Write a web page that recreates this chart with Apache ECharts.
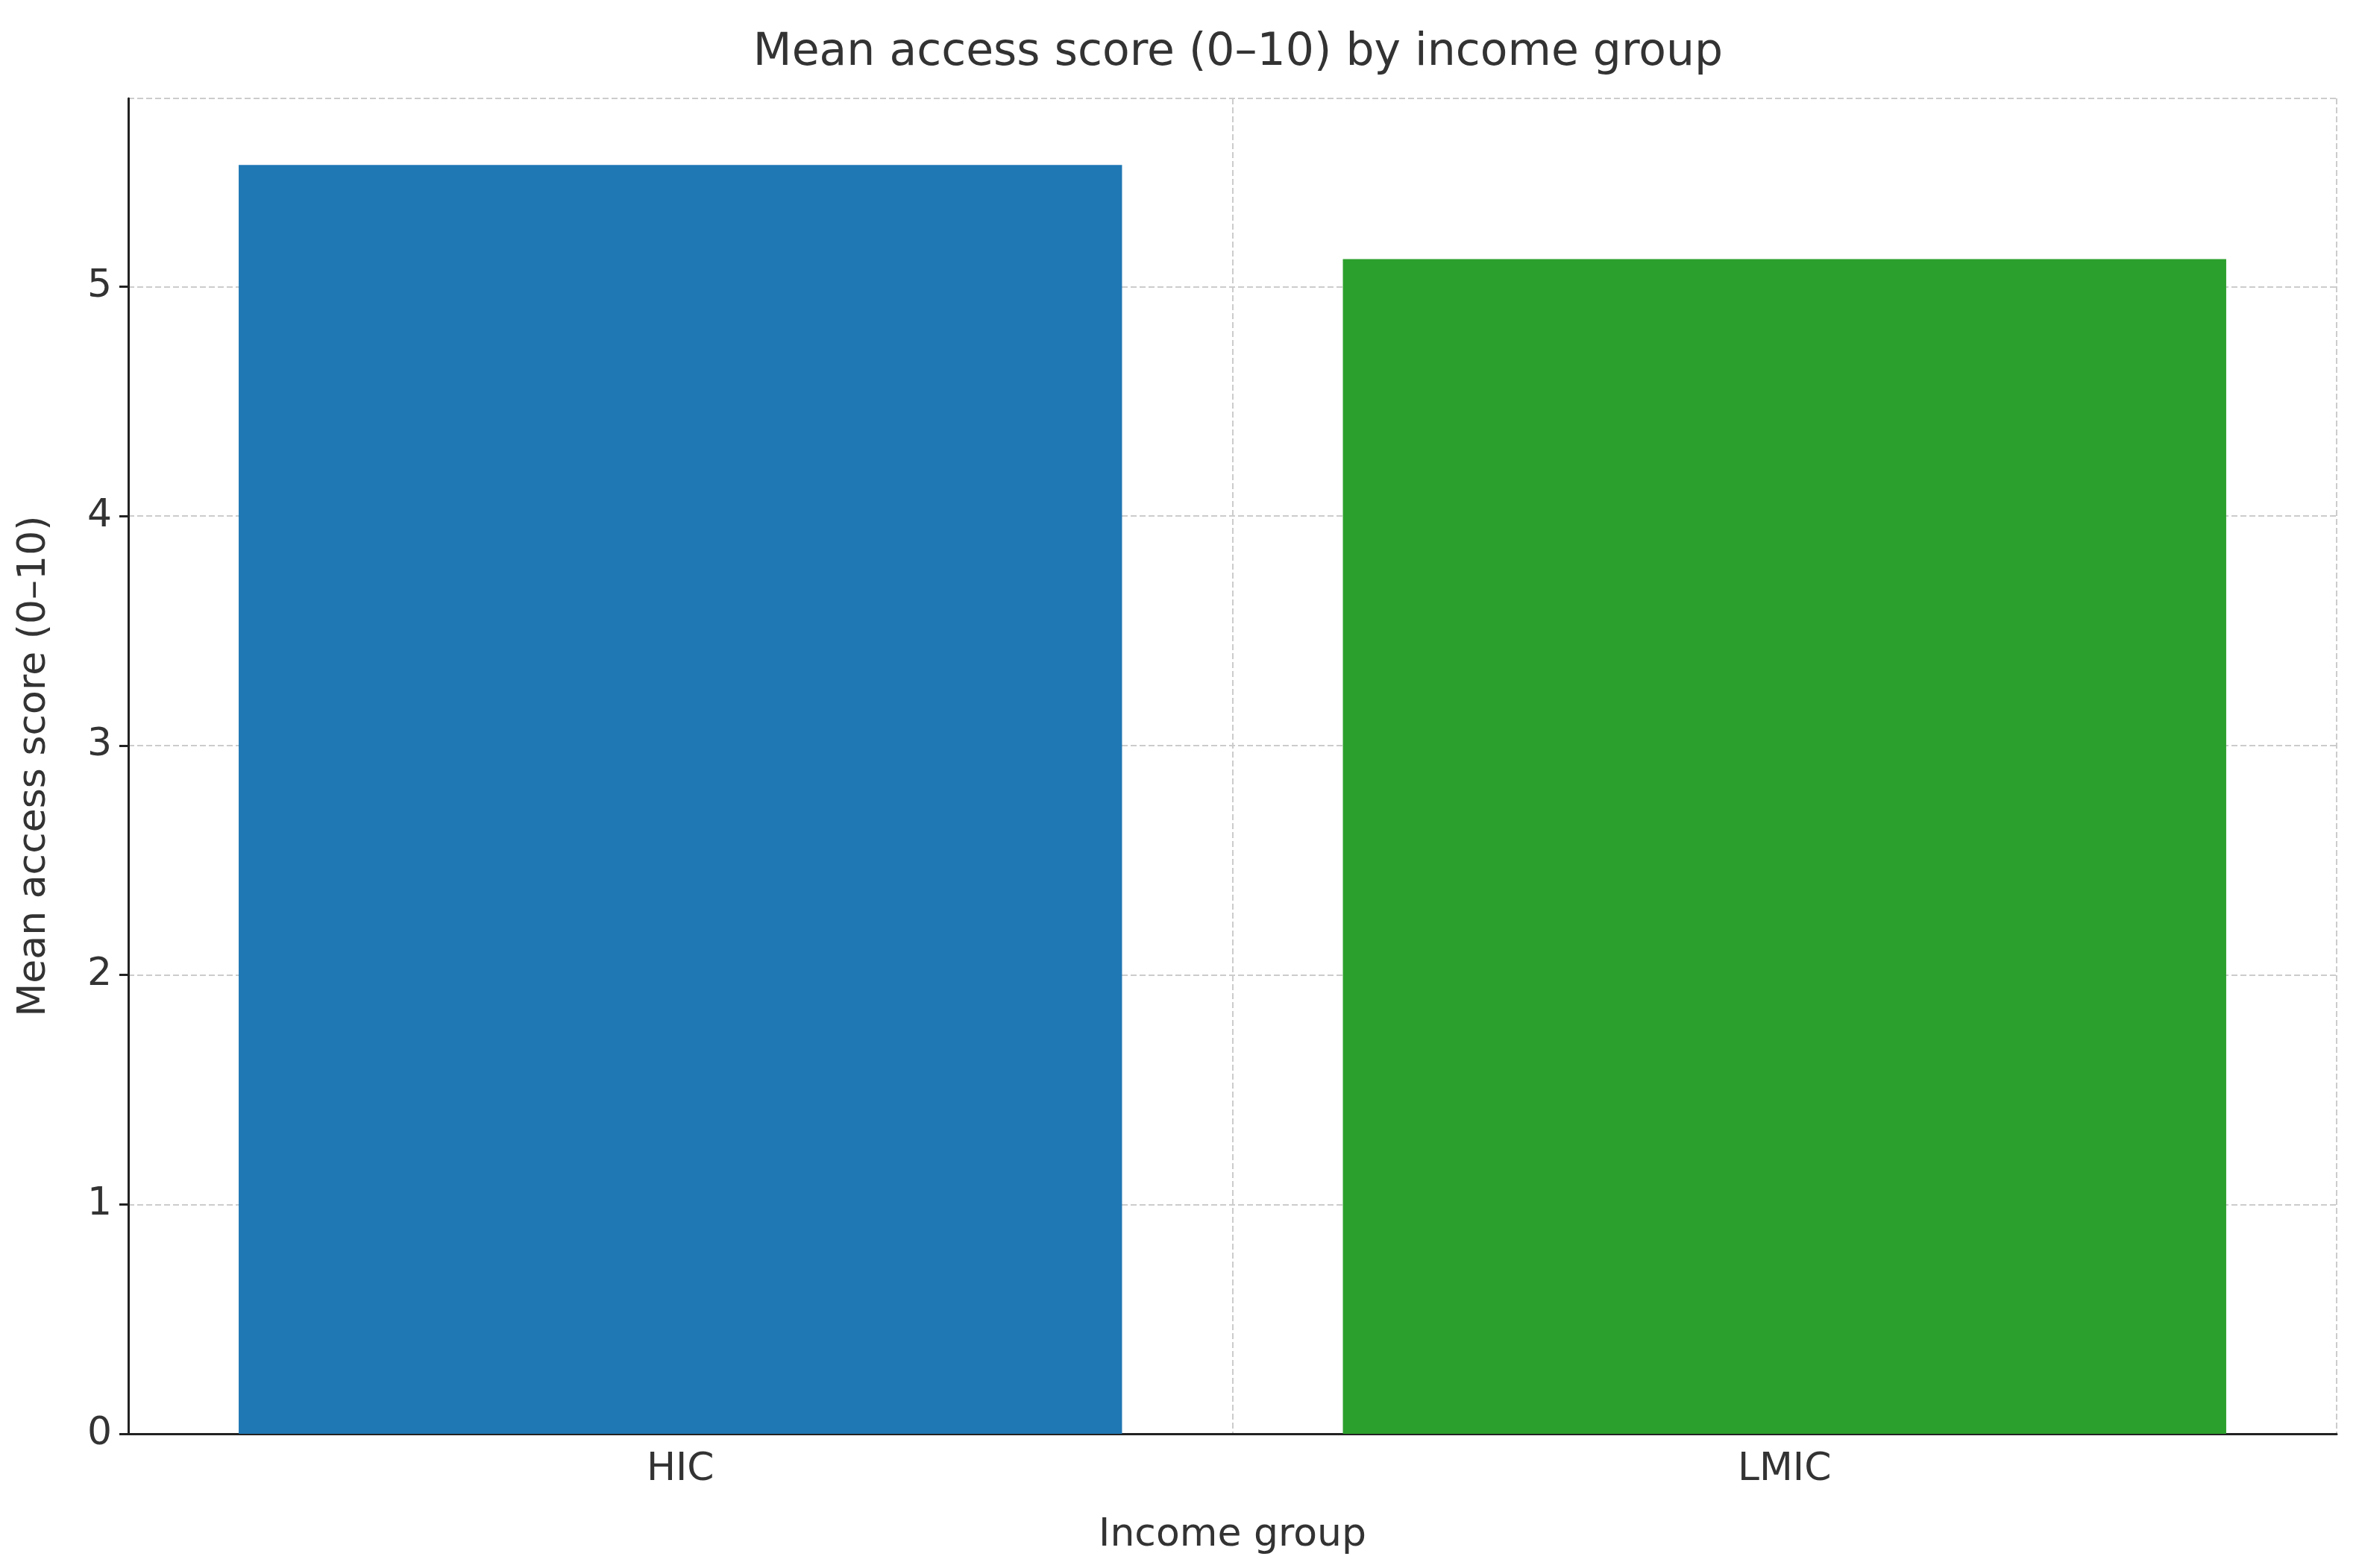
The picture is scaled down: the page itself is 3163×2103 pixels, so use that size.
<!DOCTYPE html>
<html><head><meta charset="utf-8">
<script src="https://cdn.jsdelivr.net/npm/echarts@6/dist/echarts.min.js"></script>
<style>html,body{margin:0;padding:0;background:#fff}#c{width:3163px;height:2103px}</style>
</head><body><div id="c"></div>
<script>
const categories = ["HIC", "LMIC"];
const values = [5.53, 5.12];
const colors = ["#1f77b4", "#2ca02c"];
const chart = echarts.init(document.getElementById('c'));
const font = "DejaVu Sans";
chart.setOption({
  animation: false,
  title: {text: "Mean access score (0–10) by income group", left: 1655, top: 36, textAlign: "center",
    textStyle: {fontFamily: font, fontSize: 60, fontWeight: "normal", color: "#333"}},
  grid: {left: 172, right: 30, top: 132, bottom: 180},
  xAxis: {type: "category", data: categories, name: "Income group", nameLocation: "middle", nameGap: 110,
    nameTextStyle: {fontFamily: font, fontSize: 52, color: "#333"},
    axisLine: {lineStyle: {color: "#222", width: 3}},
    axisTick: {alignWithLabel: true, length: 12, lineStyle: {color: "#222", width: 3}},
    axisLabel: {fontFamily: font, fontSize: 52, color: "#333", margin: 22},
    splitLine: {show: true, lineStyle: {type: "dashed", color: "#ccc", width: 2}}},
  yAxis: {type: "value", min: 0, max: 5.82, interval: 1, name: "Mean access score (0–10)", nameLocation: "middle", nameGap: 100,
    nameTextStyle: {fontFamily: font, fontSize: 52, color: "#333"},
    axisLine: {show: true, lineStyle: {color: "#222", width: 3}},
    axisTick: {show: true, length: 12, lineStyle: {color: "#222", width: 3}},
    axisLabel: {fontFamily: font, fontSize: 52, color: "#333", margin: 22, showMaxLabel: false},
    splitLine: {show: true, lineStyle: {type: "dashed", color: "#ccc", width: 2}}},
  series: [{type: "bar", barWidth: "80%", z: 1,
    data: values.map((v, i) => ({value: v, itemStyle: {color: colors[i]}}))}]
});
</script></body></html>
